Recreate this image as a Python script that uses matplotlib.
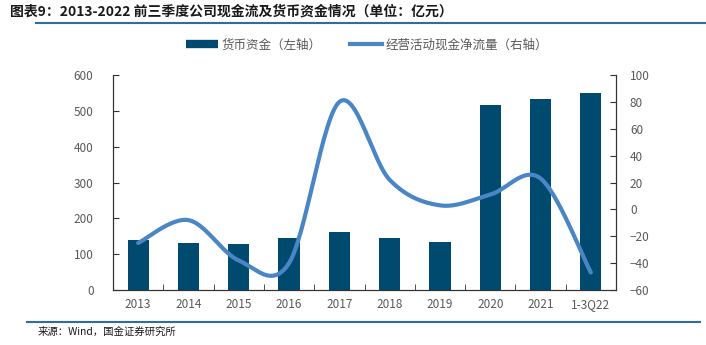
import numpy as np
import matplotlib
matplotlib.use("Agg")
import matplotlib.pyplot as plt
from matplotlib.lines import Line2D

plt.rcParams['font.family'] = ['Noto Sans CJK SC', 'DejaVu Sans']

years = ['2013', '2014', '2015', '2016', '2017', '2018', '2019', '2020', '2021', '1-3Q22']
cash = [139, 132, 128, 145, 162, 145, 135, 516, 533, 551]
op_cf = [-25, -8, -38, -40, 80, 22, 3, 11, 23, -47]

bar_color = '#004a70'
line_color = '#4a86c5'
tick_color = '#595959'


def smooth(xs, ys, n=30):
    # catmull-rom style smoothing, like Excel's smoothed line
    xs = np.asarray(xs, float)
    ys = np.asarray(ys, float)
    px = np.concatenate([[xs[0]], xs, [xs[-1]]])
    py = np.concatenate([[ys[0]], ys, [ys[-1]]])
    ox, oy = [], []
    for i in range(1, len(px) - 2):
        p0x, p1x, p2x, p3x = px[i - 1], px[i], px[i + 1], px[i + 2]
        p0y, p1y, p2y, p3y = py[i - 1], py[i], py[i + 1], py[i + 2]
        c1x, c1y = p1x + (p2x - p0x) / 6, p1y + (p2y - p0y) / 6
        c2x, c2y = p2x - (p3x - p1x) / 6, p2y - (p3y - p1y) / 6
        t = np.linspace(0, 1, n)
        b0, b1, b2, b3 = (1 - t) ** 3, 3 * t * (1 - t) ** 2, 3 * t ** 2 * (1 - t), t ** 3
        ox.extend(b0 * p1x + b1 * c1x + b2 * c2x + b3 * p2x)
        oy.extend(b0 * p1y + b1 * c1y + b2 * c2y + b3 * p2y)
    return np.array(ox), np.array(oy)


fig = plt.figure(figsize=(7.06, 3.45), dpi=100)
ax = fig.add_axes([113 / 706, 55 / 345, 503 / 706, 215 / 345])
x = np.arange(len(years))
ax.bar(x, cash, width=0.42, color=bar_color, zorder=2)
ax.set_xlim(-0.5, len(years) - 0.5)
ax.set_ylim(0, 600)
ax.set_yticks(range(0, 601, 100))
ax.set_xticks(x)
ax.set_xticklabels(years)
ax.set_xticks(np.arange(-0.5, len(years), 1), minor=True)
ax.tick_params(axis='x', which='major', length=0, pad=6, labelsize=8.5, labelcolor=tick_color)
ax.tick_params(axis='x', which='minor', direction='in', length=4, color='#333333')
ax.tick_params(axis='y', direction='in', length=4, color='#333333', labelsize=8.5,
               labelcolor=tick_color, pad=14)
ax.spines['top'].set_visible(False)
for s in ['left', 'bottom', 'right']:
    ax.spines[s].set_color('#333333')

ax2 = ax.twinx()
sx, sy = smooth(x, op_cf)
ax2.plot(sx, sy, color=line_color, lw=3, solid_capstyle='round', zorder=3)
ax2.set_ylim(-60, 100)
ax2.set_yticks(range(-60, 101, 20))
ax2.tick_params(axis='y', direction='in', length=4, color='#333333', labelsize=8.5,
                labelcolor=tick_color, pad=10)
ax2.spines['top'].set_visible(False)
for s in ['left', 'bottom', 'right']:
    ax2.spines[s].set_color('#333333')

handles = [Line2D([0], [0], color=bar_color, lw=6, solid_capstyle='butt'),
           Line2D([0], [0], color=line_color, lw=3)]
fig.legend(handles, ['货币资金（左轴）', '经营活动现金净流量（右轴）'],
           loc='center', bbox_to_anchor=(367 / 706, 1 - 45 / 345), ncol=2, frameon=False,
           fontsize=9, handlelength=2.6, handletextpad=0.3, columnspacing=2.2,
           labelcolor=tick_color)

fig.text(10 / 706, 1 - 12 / 345, '图表9：2013-2022 前三季度公司现金流及货币资金情况（单位：亿元）',
         fontsize=10, fontweight='bold', style='italic', color='#1a1a1a', va='center')
fig.add_artist(Line2D([36 / 706, 1], [1 - 23 / 345] * 2, color='#2e6e9e', lw=1.5))
fig.add_artist(Line2D([27 / 706, 700 / 706], [1 - 322 / 345] * 2, color='#2e6e9e', lw=1.5))
fig.text(38 / 706, 1 - 332 / 345, '来源：Wind，国金证券研究所', fontsize=7.5, color='#1a1a1a', va='center')

fig.savefig('out.png', dpi=100)
